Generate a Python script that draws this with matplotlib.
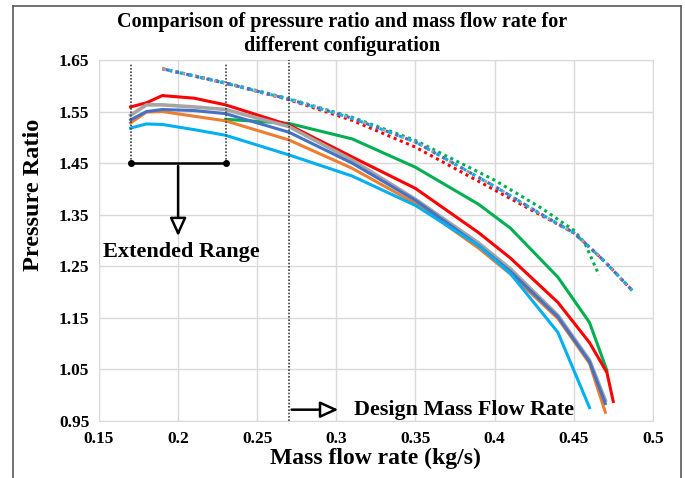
import matplotlib
matplotlib.use("Agg")
import matplotlib.pyplot as plt
from matplotlib.lines import Line2D

plt.rcParams['font.family'] = ['Liberation Serif', 'DejaVu Serif']
plt.rcParams['font.weight'] = 'bold'

# solid curves (mass flow rate, pressure ratio)
x_main = [0.17, 0.18, 0.19, 0.21, 0.23, 0.27, 0.31, 0.35, 0.39, 0.41, 0.44, 0.46, 0.47]
red_x = [0.17, 0.18, 0.19, 0.21, 0.23, 0.27, 0.31, 0.35, 0.39, 0.41, 0.44, 0.46, 0.471, 0.475]
red_y = [1.559, 1.567, 1.581, 1.576, 1.563, 1.524, 1.462, 1.401, 1.315, 1.266, 1.180, 1.102, 1.044, 0.988]
gray_y = [1.543, 1.563, 1.563, 1.559, 1.554, 1.521, 1.456, 1.380, 1.295, 1.245, 1.155, 1.068, 0.990]
blue_y = [1.534, 1.550, 1.554, 1.552, 1.546, 1.510, 1.450, 1.378, 1.290, 1.240, 1.152, 1.065, 0.984]
orange_y = [1.528, 1.549, 1.550, 1.541, 1.532, 1.495, 1.440, 1.372, 1.285, 1.235, 1.149, 1.062, 0.967]
ltblue_x = [0.17, 0.18, 0.19, 0.21, 0.23, 0.27, 0.31, 0.35, 0.39, 0.41, 0.44, 0.46]
ltblue_y = [1.518, 1.526, 1.525, 1.515, 1.504, 1.466, 1.425, 1.368, 1.290, 1.236, 1.122, 0.976]
green_x = [0.23, 0.27, 0.31, 0.35, 0.39, 0.41, 0.44, 0.46, 0.471]
green_y = [1.535, 1.527, 1.497, 1.442, 1.370, 1.324, 1.229, 1.141, 1.048]

# dotted curves
dot_x = [0.19, 0.23, 0.27, 0.31, 0.35, 0.40, 0.43, 0.45, 0.46, 0.47, 0.487]
dot_blue_y = [1.633, 1.605, 1.574, 1.537, 1.491, 1.405, 1.350, 1.315, 1.287, 1.258, 1.203]
dot_red_y = [1.633, 1.605, 1.573, 1.533, 1.481, 1.398, 1.348, 1.315, 1.287, 1.258, 1.203]
dotg_x = [0.19, 0.23, 0.27, 0.31, 0.35, 0.40, 0.43, 0.45, 0.457, 0.466]
dot_green_y = [1.633, 1.606, 1.575, 1.539, 1.494, 1.417, 1.362, 1.320, 1.295, 1.233]

xticks = [0.15, 0.2, 0.25, 0.3, 0.35, 0.4, 0.45, 0.5]
xtick_labels = ['0.15', '0.2', '0.25', '0.3', '0.35', '0.4', '0.45', '0.5']
yticks = [0.95, 1.05, 1.15, 1.25, 1.35, 1.45, 1.55, 1.65]

C_RED = '#FF0000'
C_GRAY = '#A5A5A5'
C_BLUE = '#4472C4'
C_ORANGE = '#ED7D31'
C_LTBLUE = '#00B0F0'
C_GREEN = '#00B050'

fig = plt.figure(figsize=(6.85, 4.78), dpi=100)
ax = fig.add_axes([0.1445, 0.1192, 0.8085, 0.7553])

# dotted lines first
dots = (0, (1, 1.2))
ax.plot(dotg_x, dot_green_y, color=C_GREEN, lw=2.2, ls=dots, zorder=2)
ax.plot(dot_x, dot_red_y, color=C_RED, lw=2.2, ls=dots, zorder=2)
ax.plot(dot_x, dot_blue_y, color=C_GRAY, lw=2.2, ls=dots, zorder=2)
ax.plot(dot_x, dot_blue_y, color=C_LTBLUE, lw=2.2, ls=(1, (1, 2.4)), zorder=2)
ax.plot(dot_x, dot_blue_y, color=C_BLUE, lw=2.2, ls=(2.2, (1, 2.4)), zorder=2)

# solid lines
ax.plot(green_x, green_y, color=C_GREEN, lw=2.2, zorder=3)
ax.plot(red_x, red_y, color=C_RED, lw=2.2, zorder=3)
ax.plot(x_main, gray_y, color=C_GRAY, lw=2.6, zorder=3)
ax.plot(x_main, orange_y, color=C_ORANGE, lw=2.2, zorder=3)
ax.plot(x_main, blue_y, color=C_BLUE, lw=2.2, zorder=4)
ax.plot(ltblue_x, ltblue_y, color=C_LTBLUE, lw=2.2, zorder=4)

ax.set_xlim(0.15, 0.5)
ax.set_ylim(0.95, 1.65)
ax.set_xticks(xticks)
ax.set_xticklabels(xtick_labels)
ax.set_yticks(yticks)
ax.set_yticklabels([f'{v:.2f}' for v in yticks])
ax.tick_params(length=0, labelsize=12.5, pad=7)
ax.grid(True, color='#D9D9D9', lw=1)
ax.set_axisbelow(True)
for s in ax.spines.values():
    s.set_color('#D9D9D9')

ax.set_xlabel('Mass flow rate (kg/s)', fontsize=17, fontweight='bold')
ax.xaxis.set_label_coords(0.5, -0.073)
ax.set_ylabel('Pressure Ratio', fontsize=17.5, fontweight='bold')
ax.yaxis.set_label_coords(-0.10, 0.626)
fig.text(342 / 685, 1 - 34 / 478,
         'Comparison of pressure ratio and mass flow rate for\ndifferent configuration',
         fontsize=14.5, fontweight='bold', ha='center', va='center', linespacing=1.3)

# extended range markers
for xv in (0.17, 0.23):
    ax.plot([xv, xv], [1.45, 1.644], color='#404040', lw=1.2, ls=(0, (1, 1)), zorder=5)
ax.plot([0.27, 0.27], [0.95, 1.65], color='#404040', lw=1.2, ls=(0, (1, 1)), zorder=5)
ax.plot([0.17, 0.23], [1.45, 1.45], color='black', lw=1.8, marker='o', ms=4,
        markevery=[0, 1], zorder=6)
ax.annotate('', xy=(0.2, 1.303), xytext=(0.2, 1.45),
            arrowprops=dict(arrowstyle='-|>,head_length=1.1,head_width=0.5',
                            fc='white', ec='black', lw=1.8), zorder=6)
ax.text(0.1525, 1.278, 'Extended Range', fontsize=16, fontweight='bold',
        ha='left', va='center', zorder=6)

ax.annotate('', xy=(0.303, 0.972), xytext=(0.27, 0.972),
            arrowprops=dict(arrowstyle='-|>,head_length=1.1,head_width=0.5',
                            fc='white', ec='black', lw=1.8), zorder=6)
ax.text(0.311, 0.972, 'Design Mass Flow Rate', fontsize=15.8, fontweight='bold',
        ha='left', va='center', zorder=6)

# figure frame (left, top, right)
W, H = 685.0, 478.0
fx0, fx1, fy1 = 13 / W, 681 / W, 1 - 6 / H
for xs, ys in (([fx0, fx0], [0, fy1]), ([fx1, fx1], [fy1, 0]), ([fx0, fx1], [fy1, fy1])):
    fig.add_artist(Line2D(xs, ys, transform=fig.transFigure, color='#595959', lw=1.2))

fig.savefig('out.png', dpi=100)
